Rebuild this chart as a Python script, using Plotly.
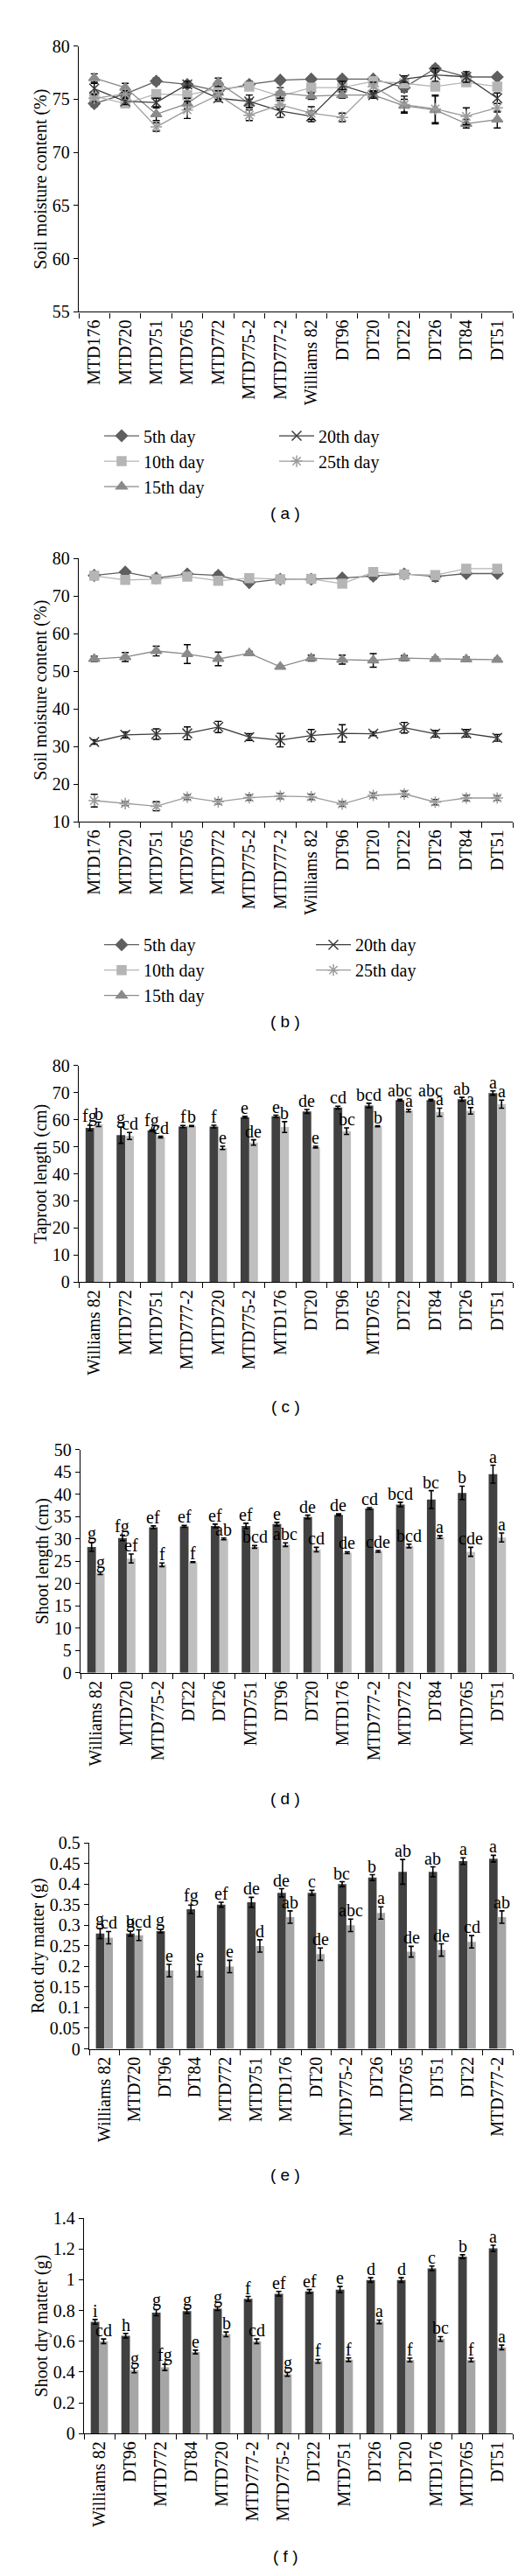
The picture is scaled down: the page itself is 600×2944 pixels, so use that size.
import plotly.graph_objects as go

W, H = 600, 2944

# ---- data: soil moisture (a, b) ----
line_cats = ["MTD176", "MTD720", "MTD751", "MTD765", "MTD772", "MTD775-2", "MTD777-2",
             "Williams 82", "DT96", "DT20", "DT22", "DT26", "DT84", "DT51"]
days = ["5th day", "10th day", "15th day", "20th day", "25th day"]

a_day5 = [74.6, 75.5, 76.7, 76.4, 75.8, 76.4, 76.8, 76.9, 76.9, 76.9, 76.1, 77.9, 77.1, 77.1]
a_day10 = [75.3, 74.6, 75.5, 75.4, 76.0, 76.2, 75.3, 76.1, 76.1, 76.7, 76.5, 76.2, 76.6, 76.2]
a_day15 = [77.0, 76.1, 73.6, 74.6, 76.6, 74.6, 75.6, 75.3, 75.4, 75.4, 74.4, 74.0, 72.7, 73.1]
a_day20 = [76.0, 74.8, 74.7, 76.4, 75.1, 74.8, 73.9, 73.4, 76.3, 75.4, 76.9, 77.3, 77.1, 75.1]
a_day25 = [75.1, 75.5, 72.4, 74.0, 75.4, 73.5, 74.5, 73.7, 73.3, 76.2, 74.5, 74.1, 73.4, 74.2]
a_err5 = [0.3, 0.3, 0.3, 0.3, 0.3, 0.3, 0.2, 0.2, 0.2, 0.2, 0.4, 0.3, 0.3, 0.2]
a_err10 = [0.3, 0.3, 0.3, 0.3, 0.3, 0.3, 0.3, 0.3, 0.3, 0.3, 0.3, 0.3, 0.3, 0.3]
a_err15 = [0.4, 0.4, 0.6, 0.5, 0.4, 0.4, 0.5, 0.3, 0.3, 0.3, 0.6, 1.3, 0.4, 0.8]
a_err20 = [0.5, 0.3, 0.4, 0.3, 0.3, 0.6, 0.6, 0.5, 0.4, 0.3, 0.3, 0.6, 0.5, 0.5]
a_err25 = [0.3, 0.3, 0.4, 0.8, 0.4, 0.5, 0.4, 0.6, 0.4, 0.4, 0.8, 1.3, 0.8, 0.4]

b_day5 = [75.5, 76.4, 74.8, 75.9, 75.5, 73.6, 74.5, 74.5, 74.8, 75.3, 75.9, 75.2, 76.0, 76.0]
b_day10 = [75.4, 74.3, 74.5, 75.2, 74.1, 74.8, 74.5, 74.6, 73.3, 76.4, 75.8, 75.6, 77.3, 77.3]
b_day15 = [53.3, 53.8, 55.4, 54.6, 53.3, 54.8, 51.2, 53.5, 53.1, 52.9, 53.5, 53.3, 53.2, 53.1]
b_day20 = [31.2, 33.1, 33.3, 33.5, 35.2, 32.5, 31.7, 32.9, 33.5, 33.4, 35.0, 33.4, 33.5, 32.3]
b_day25 = [15.6, 14.8, 14.1, 16.5, 15.3, 16.4, 16.8, 16.6, 14.7, 17.0, 17.4, 15.2, 16.3, 16.3]
b_err5 = [0.3, 0.2, 0.3, 0.3, 0.8, 0.6, 0.3, 0.3, 0.2, 0.8, 0.3, 1.2, 0.3, 0.3]
b_err10 = [0.3, 0.3, 0.3, 0.3, 0.3, 0.3, 0.3, 0.3, 0.3, 1.2, 0.3, 0.3, 0.3, 0.3]
b_err15 = [0.7, 1.2, 1.3, 2.5, 1.8, 0.5, 0.4, 0.8, 1.2, 1.8, 0.7, 0.5, 0.6, 0.4]
b_err20 = [0.6, 0.8, 1.4, 1.7, 1.5, 0.9, 1.8, 1.6, 2.3, 0.5, 1.4, 0.9, 1.0, 0.9]
b_err25 = [1.7, 0.5, 1.2, 0.6, 0.6, 0.7, 0.7, 0.7, 0.6, 0.6, 0.7, 0.7, 0.7, 0.6]

# ---- data: taproot length (c) ----
c_cats = ["Williams 82", "MTD772", "MTD751", "MTD777-2", "MTD720", "MTD775-2", "MTD176",
          "DT20", "DT96", "MTD765", "DT22", "DT84", "DT26", "DT51"]
c_dark = [57.0, 54.3, 56.0, 57.5, 57.5, 61.0, 61.3, 63.1, 64.5, 65.3, 67.3, 67.3, 67.6, 69.9]
c_light = [58.3, 54.0, 53.6, 57.7, 49.6, 51.6, 57.3, 49.9, 55.8, 57.6, 63.4, 62.8, 63.3, 65.8]
c_dark_err = [1.0, 3.0, 0.3, 0.4, 0.5, 0.3, 0.4, 0.7, 0.5, 0.8, 0.3, 0.3, 0.7, 0.8]
c_light_err = [0.8, 1.3, 0.3, 0.2, 0.6, 1.0, 2.0, 0.3, 1.2, 0.2, 0.5, 1.5, 1.2, 1.5]
c_dark_lab = ["fg", "g", "fg", "f", "f", "e", "e", "de", "cd", "bcd", "abc", "abc", "ab", "a"]
c_light_lab = ["b", "cd", "cd", "b", "e", "de", "b", "e", "bc", "b", "a", "a", "a", "a"]

# ---- data: shoot length (d) ----
d_cats = ["Williams 82", "MTD720", "MTD775-2", "DT22", "DT26", "MTD751", "DT96", "DT20",
          "MTD176", "MTD777-2", "MTD772", "DT84", "MTD765", "DT51"]
d_dark = [28.2, 30.2, 32.6, 32.8, 32.9, 32.9, 33.3, 34.9, 35.4, 36.8, 37.7, 38.8, 40.3, 44.5]
d_light = [22.3, 25.6, 24.2, 24.8, 30.0, 28.2, 28.7, 27.6, 26.9, 27.2, 28.4, 30.4, 27.1, 30.3]
d_dark_err = [1.0, 0.6, 0.3, 0.2, 0.4, 0.6, 0.4, 0.4, 0.2, 0.2, 0.5, 2.0, 1.5, 2.0]
d_light_err = [0.3, 1.0, 0.4, 0.1, 0.2, 0.3, 0.4, 0.5, 0.2, 0.2, 0.4, 0.3, 1.0, 1.0]
d_dark_lab = ["g", "fg", "ef", "ef", "ef", "ef", "e", "de", "de", "cd", "bcd", "bc", "b", "a"]
d_light_lab = ["g", "ef", "f", "f", "ab", "bcd", "abc", "cd", "de", "cde", "bcd", "a", "cde", "a"]

# ---- data: root dry matter (e) ----
e_cats = ["Williams 82", "MTD720", "DT96", "DT84", "MTD772", "MTD751", "MTD176", "DT20",
          "MTD775-2", "DT26", "MTD765", "DT51", "DT22", "MTD777-2"]
e_dark = [0.280, 0.280, 0.286, 0.339, 0.350, 0.356, 0.379, 0.379, 0.400, 0.416, 0.430, 0.430, 0.456, 0.462]
e_light = [0.270, 0.276, 0.190, 0.190, 0.200, 0.250, 0.320, 0.230, 0.300, 0.330, 0.236, 0.240, 0.260, 0.320]
e_dark_err = [0.012, 0.006, 0.004, 0.010, 0.006, 0.012, 0.010, 0.006, 0.006, 0.007, 0.030, 0.012, 0.008, 0.008]
e_light_err = [0.015, 0.013, 0.015, 0.015, 0.015, 0.015, 0.015, 0.015, 0.015, 0.015, 0.013, 0.015, 0.015, 0.015]
e_dark_lab = ["g", "g", "g", "fg", "ef", "de", "de", "c", "bc", "b", "ab", "ab", "a", "a"]
e_light_lab = ["cd", "bcd", "e", "e", "e", "d", "ab", "de", "abc", "a", "de", "de", "cd", "ab"]

# ---- data: shoot dry matter (f) ----
f_cats = ["Williams 82", "DT96", "MTD772", "DT84", "MTD720", "MTD777-2", "MTD775-2", "DT22",
          "MTD751", "DT26", "DT20", "MTD176", "MTD765", "DT51"]
f_dark = [0.726, 0.636, 0.786, 0.796, 0.812, 0.876, 0.909, 0.924, 0.936, 0.998, 0.998, 1.074, 1.150, 1.204]
f_light = [0.600, 0.410, 0.430, 0.530, 0.645, 0.600, 0.385, 0.470, 0.480, 0.726, 0.478, 0.615, 0.478, 0.560]
f_dark_err = [0.015, 0.015, 0.020, 0.015, 0.012, 0.015, 0.015, 0.012, 0.020, 0.015, 0.015, 0.015, 0.012, 0.020]
f_light_err = [0.015, 0.015, 0.020, 0.012, 0.015, 0.015, 0.012, 0.012, 0.012, 0.012, 0.012, 0.015, 0.012, 0.015]
f_dark_lab = ["i", "h", "g", "g", "g", "f", "ef", "ef", "e", "d", "d", "c", "b", "a"]
f_light_lab = ["cd", "g", "fg", "e", "b", "cd", "g", "f", "f", "a", "f", "bc", "f", "a"]

SERIF = "Liberation Serif"
SANS = "Liberation Sans"
FS = 20


def ydom(top, bottom):
    return [1 - bottom / H, 1 - top / H]


fig = go.Figure()

day_styles = [
    dict(color="#5f5f5f", symbol="diamond", size=10),
    dict(color="#b5b5b5", symbol="square", size=10),
    dict(color="#8a8a8a", symbol="triangle-up", size=11),
    dict(color="#3c3c3c", symbol="x-thin-open", size=11),
    dict(color="#9c9c9c", symbol="asterisk-open", size=11),
]

panels_line = [
    ("x", "y", [a_day5, a_day10, a_day15, a_day20, a_day25],
     [a_err5, a_err10, a_err15, a_err20, a_err25], ("legend", "legend2")),
    ("x2", "y2", [b_day5, b_day10, b_day15, b_day20, b_day25],
     [b_err5, b_err10, b_err15, b_err20, b_err25], ("legend3", "legend4")),
]

for xa, ya, series, errs, legs in panels_line:
    for i, (name, vals, err, st) in enumerate(zip(days, series, errs, day_styles)):
        fig.add_trace(go.Scatter(
            x=line_cats, y=vals, name=name, xaxis=xa, yaxis=ya,
            mode="lines+markers",
            line=dict(color=st["color"], width=1.3),
            marker=dict(symbol=st["symbol"], size=st["size"], color=st["color"],
                        line=dict(color=st["color"], width=1.5)),
            error_y=dict(type="data", array=err, color="black", thickness=1.4, width=4),
            legend=legs[0] if i < 3 else legs[1],
        ))

bar_panels = [
    ("x3", "y3", c_cats, c_dark, c_light, c_dark_err, c_light_err, c_dark_lab, c_light_lab, "#404040", "#bfbfbf"),
    ("x4", "y4", d_cats, d_dark, d_light, d_dark_err, d_light_err, d_dark_lab, d_light_lab, "#404040", "#bfbfbf"),
    ("x5", "y5", e_cats, e_dark, e_light, e_dark_err, e_light_err, e_dark_lab, e_light_lab, "#404040", "#a6a6a6"),
    ("x6", "y6", f_cats, f_dark, f_light, f_dark_err, f_light_err, f_dark_lab, f_light_lab, "#404040", "#a6a6a6"),
]

annotations = []
for xa, ya, cats, dark, light, derr, lerr, dlab, llab, dc, lc in bar_panels:
    for vals, err, col, labs, shift in [(dark, derr, dc, dlab, -5), (light, lerr, lc, llab, 5)]:
        fig.add_trace(go.Bar(
            x=cats, y=vals, xaxis=xa, yaxis=ya, marker=dict(color=col, line=dict(width=0)),
            error_y=dict(type="data", array=err, color="black", thickness=1.6, width=3),
            showlegend=False,
        ))
        for c, v, e, t in zip(cats, vals, err, labs):
            annotations.append(dict(
                x=c, y=v + e, xref=xa, yref=ya, text=t, showarrow=False,
                xanchor="center", yanchor="bottom", xshift=shift, yshift=-3,
                font=dict(family=SERIF, size=FS, color="black"),
            ))

# panel captions
for lab, ypx in [("a", 572), ("b", 1157), ("c", 1600), ("d", 2052), ("e", 2485), ("f", 2924)]:
    annotations.append(dict(
        x=0.53, y=1 - ypx / H, xref="paper", yref="paper", text="( %s )" % lab,
        showarrow=False, xanchor="center", yanchor="middle",
        font=dict(family=SANS, size=19, color="black"),
    ))

layout_axes = {}
panel_geom = [
    # xaxis, yaxis, left px, top px, bottom px, range, dtick, title
    ("xaxis", "yaxis", 82, 34, 340, [55, 80], 5, "Soil moisture content (%)"),
    ("xaxis2", "yaxis2", 82, 624, 927, [10, 80], 10, "Soil moisture content (%)"),
    ("xaxis3", "yaxis3", 82, 1208, 1457, [0, 80], 10, "Taproot length (cm)"),
    ("xaxis4", "yaxis4", 84, 1650, 1907, [0, 50], 5, "Shoot length (cm)"),
    ("xaxis5", "yaxis5", 94, 2103, 2340, [0, 0.5], 0.05, "Root dry matter (g)"),
    ("xaxis6", "yaxis6", 88, 2535, 2783, [0, 1.4], 0.2, "Shoot dry matter (g)"),
]

for k, (xn, yn, left, top, bot, rng, dt, title) in enumerate(panel_geom):
    anchor_y = "y" if k == 0 else "y%d" % (k + 1)
    anchor_x = "x" if k == 0 else "x%d" % (k + 1)
    layout_axes[xn] = dict(
        domain=[left / W, 578 / W], anchor=anchor_y, type="category",
        range=[-0.5, 13.5], showline=True, linecolor="black", linewidth=1.3,
        ticks="outside", tickson="boundaries", ticklen=6, tickcolor="black", tickwidth=1.3,
        tickangle=-90, tickfont=dict(family=SERIF, size=FS, color="black"),
        showgrid=False, zeroline=False,
    )
    layout_axes[yn] = dict(
        domain=ydom(top, bot), anchor=anchor_x, range=rng, dtick=dt, tick0=0,
        showline=True, linecolor="black", linewidth=1.3, ticks="outside", ticklen=5,
        tickcolor="black", tickwidth=1.3, showgrid=False, zeroline=False,
        tickfont=dict(family=SERIF, size=FS, color="black"),
        title=dict(text=title, font=dict(family=SERIF, size=FS, color="black"), standoff=0),
    )

leg_common = dict(font=dict(family=SERIF, size=FS, color="black"), bgcolor="rgba(0,0,0,0)",
                  xanchor="left", yanchor="top", tracegroupgap=0, itemwidth=40)

fig.update_layout(
    width=W, height=H, margin=dict(l=0, r=0, t=0, b=0),
    paper_bgcolor="white", plot_bgcolor="white",
    barmode="group", bargap=0.44, bargroupgap=0,
    annotations=annotations,
    legend=dict(x=106 / W, y=1 - 463 / H, **leg_common),
    legend2=dict(x=306 / W, y=1 - 463 / H, **leg_common),
    legend3=dict(x=106 / W, y=1 - 1049 / H, **leg_common),
    legend4=dict(x=348 / W, y=1 - 1049 / H, **leg_common),
    **layout_axes,
)

fig.write_html("out.html")
